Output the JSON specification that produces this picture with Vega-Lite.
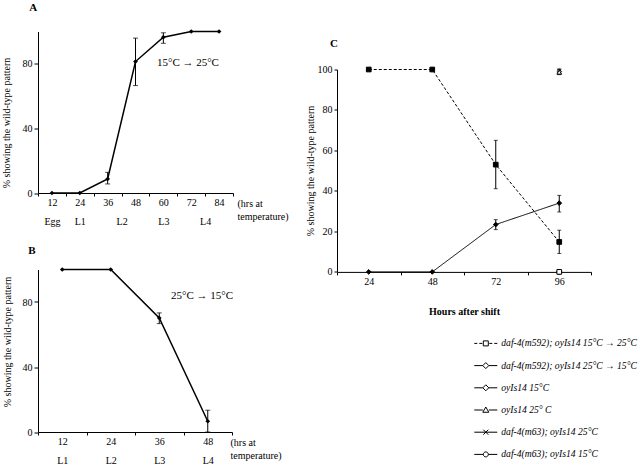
{
"$schema": "https://vega.github.io/schema/vega-lite/v6.json",
"background": "white",
"padding": {"left": 1, "top": 1.5, "right": 0, "bottom": 0},
"config": {
  "font": "Liberation Serif",
  "view": {"stroke": null},
  "axis": {"domainColor": "black", "tickColor": "black", "labelColor": "black", "titleColor": "black", "labelFontSize": 10, "titleFontSize": 10, "titleFontWeight": "normal", "grid": false, "labelFont": "Liberation Serif", "titleFont": "Liberation Serif", "domainWidth": 1, "tickWidth": 1},
  "title": {"font": "Liberation Serif", "fontSize": 11, "fontWeight": "bold", "color": "black"}
},
"spacing": 16,
"hconcat": [
 {"bounds": "flush", "spacing": 76, "vconcat": [
  {
   "width": 195, "height": 161.5,
   "title": {"text": "A", "anchor": "start", "frame": "group", "dx": -8.7, "offset": 7, "baseline": "alphabetic"},
   "data": {"values": [
     {"h": 12, "v": 0}, {"h": 24, "v": 0}, {"h": 36, "v": 8.7, "lo": 5.6, "hi": 12.8},
     {"h": 48, "v": 81.4, "lo": 66.5, "hi": 95.9}, {"h": 60, "v": 96.5, "lo": 92.7, "hi": 99.2},
     {"h": 72, "v": 100}, {"h": 84, "v": 100}]},
   "resolve": {"axis": {"x": "independent"}},
   "layer": [
    {"mark": {"type": "line", "color": "black", "strokeWidth": 1.5},
     "encoding": {
      "x": {"field": "h", "type": "quantitative", "scale": {"domain": [6, 90], "nice": false, "zero": false},
        "axis": {"orient": "bottom", "values": [12, 24, 36, 42, 48, 60, 72, 78, 84], "ticks": false, "labelPadding": 4, "labelOverlap": false, "labelFlush": false, "labelBound": false, "labelLineHeight": 19.5,
          "labelExpr": "datum.value == 12 ? ['12','Egg'] : datum.value == 24 ? ['24','L1'] : datum.value == 36 ? ['36',''] : datum.value == 42 ? ['','L2'] : datum.value == 48 ? ['48',''] : datum.value == 60 ? ['60','L3'] : datum.value == 72 ? ['72',''] : datum.value == 78 ? ['','L4'] : ['84','']",
          "title": ["(hrs at", "temperature)"], "titleX": 199, "titleY": 13, "titleAlign": "left", "titleBaseline": "alphabetic", "titleLineHeight": 13}},
      "y": {"field": "v", "type": "quantitative", "scale": {"domain": [0, 100], "nice": false},
        "axis": {"values": [0, 20, 40, 60, 80, 100], "labelOverlap": false,
          "tickSize": 4, "labelPadding": 2, "title": "% showing the wild-type pattern", "titleX": -27, "titleY": 91}}
     }},
    {"transform": [{"filter": "datum.lo != null"}],
     "mark": {"type": "rule", "color": "black", "strokeWidth": 1},
     "encoding": {"x": {"field": "h", "type": "quantitative", "axis": null}, "y": {"field": "lo", "type": "quantitative"}, "y2": {"field": "hi"}}},
    {"transform": [{"filter": "datum.lo != null"}, {"fold": ["lo", "hi"], "as": ["k", "e"]}],
     "mark": {"type": "tick", "orient": "horizontal", "size": 5, "thickness": 1, "color": "black"},
     "encoding": {"x": {"field": "h", "type": "quantitative", "axis": null}, "y": {"field": "e", "type": "quantitative"}}},
    {"mark": {"type": "point", "shape": "diamond", "filled": true, "size": 22, "color": "black", "opacity": 1},
     "encoding": {
      "x": {"field": "h", "type": "quantitative", "axis": {"orient": "bottom", "values": [6, 18, 30, 42, 54, 66, 78, 90], "labels": false, "domain": false, "tickSize": 3, "title": null}},
      "y": {"field": "v", "type": "quantitative"}}},
    {"data": {"values": [{}]},
     "mark": {"type": "text", "fontSize": 11, "align": "center", "baseline": "middle", "color": "black"},
     "encoding": {"x": {"datum": 70.6, "axis": null},
       "y": {"datum": 80.5, "type": "quantitative", "axis": {"values": [0, 20, 40, 60, 80, 100], "labelOverlap": false, "tickSize": 4, "labelPadding": 2, "title": "% showing the wild-type pattern", "titleX": -27, "titleY": 91}},
       "text": {"value": "15°C → 25°C"}}}
   ]
  },
  {
   "width": 194, "height": 162.5,
   "title": {"text": "B", "anchor": "start", "frame": "group", "dx": -9.7, "offset": 2, "baseline": "alphabetic"},
   "data": {"values": [
     {"h": 12, "v": 100}, {"h": 24, "v": 100}, {"h": 36, "v": 70.2, "lo": 66.7, "hi": 73.3},
     {"h": 48, "v": 6.6, "lo": 0, "hi": 13.4}]},
   "resolve": {"axis": {"x": "independent"}},
   "layer": [
    {"mark": {"type": "line", "color": "black", "strokeWidth": 1.5},
     "encoding": {
      "x": {"field": "h", "type": "quantitative", "scale": {"domain": [6, 54], "nice": false, "zero": false},
        "axis": {"orient": "bottom", "values": [12, 24, 36, 48], "ticks": false, "labelPadding": 4, "labelOverlap": false, "labelFlush": false, "labelBound": false, "labelLineHeight": 19,
          "labelExpr": "datum.value == 12 ? ['12','L1'] : datum.value == 24 ? ['24','L2'] : datum.value == 36 ? ['36','L3'] : ['48','L4']",
          "title": ["(hrs at", "temperature)"], "titleX": 192, "titleY": 13.8, "titleAlign": "left", "titleBaseline": "alphabetic", "titleLineHeight": 13}},
      "y": {"field": "v", "type": "quantitative", "scale": {"domain": [0, 100], "nice": false},
        "axis": {"values": [0, 20, 40, 60, 80, 100], "labelOverlap": false,
          "tickSize": 4, "labelPadding": 2, "title": "% showing the wild-type pattern", "titleX": -26, "titleY": 72}}
     }},
    {"transform": [{"filter": "datum.lo != null"}],
     "mark": {"type": "rule", "color": "black", "strokeWidth": 1},
     "encoding": {"x": {"field": "h", "type": "quantitative", "axis": null}, "y": {"field": "lo", "type": "quantitative"}, "y2": {"field": "hi"}}},
    {"transform": [{"filter": "datum.lo != null"}, {"fold": ["lo", "hi"], "as": ["k", "e"]}],
     "mark": {"type": "tick", "orient": "horizontal", "size": 5, "thickness": 1, "color": "black"},
     "encoding": {"x": {"field": "h", "type": "quantitative", "axis": null}, "y": {"field": "e", "type": "quantitative"}}},
    {"mark": {"type": "point", "shape": "diamond", "filled": true, "size": 22, "color": "black", "opacity": 1},
     "encoding": {
      "x": {"field": "h", "type": "quantitative", "axis": {"orient": "bottom", "values": [6, 18, 30, 42, 54], "labels": false, "domain": false, "tickSize": 3, "title": null}},
      "y": {"field": "v", "type": "quantitative"}}},
    {"data": {"values": [{}]},
     "mark": {"type": "text", "fontSize": 11, "align": "center", "baseline": "middle", "color": "black"},
     "encoding": {"x": {"datum": 46.6, "axis": null},
       "y": {"datum": 84, "type": "quantitative", "axis": {"values": [0, 20, 40, 60, 80, 100], "labelOverlap": false, "tickSize": 4, "labelPadding": 2, "title": "% showing the wild-type pattern", "titleX": -26, "titleY": 72}},
       "text": {"value": "25°C → 15°C"}}}
   ]
  }
 ]},
 {"bounds": "flush", "spacing": 0, "vconcat": [
  {"width": 254, "height": 38, "view": {"fill": "white", "stroke": null}, "data": {"values": []}, "mark": "point"},
  {
   "width": 254, "height": 202.4,
   "title": {"text": "C", "anchor": "start", "frame": "group", "dx": -7, "offset": 7, "baseline": "alphabetic"},
   "data": {"values": [
     {"s": "daf-4(m592); oyIs14 15°C → 25°C", "h": 24, "v": 100},
     {"s": "daf-4(m592); oyIs14 15°C → 25°C", "h": 48, "v": 100},
     {"s": "daf-4(m592); oyIs14 15°C → 25°C", "h": 72, "v": 53, "lo": 41.1, "hi": 65},
     {"s": "daf-4(m592); oyIs14 15°C → 25°C", "h": 96, "v": 14.8, "lo": 9.1, "hi": 20.6},
     {"s": "daf-4(m592); oyIs14 25°C → 15°C", "h": 24, "v": 0},
     {"s": "daf-4(m592); oyIs14 25°C → 15°C", "h": 48, "v": 0},
     {"s": "daf-4(m592); oyIs14 25°C → 15°C", "h": 72, "v": 23.4, "lo": 20.9, "hi": 25.8},
     {"s": "daf-4(m592); oyIs14 25°C → 15°C", "h": 96, "v": 34, "lo": 29.6, "hi": 37.8},
     {"s": "oyIs14 15°C", "h": 96, "v": 99, "lo": 97.5, "hi": 100.3},
     {"s": "oyIs14 25° C", "h": 96, "v": 98.7, "lo": 97.5, "hi": 100},
     {"s": "daf-4(m63); oyIs14 25°C", "h": 96, "v": 0},
     {"s": "daf-4(m63); oyIs14 15°C", "h": 96, "v": 0}]},
   "resolve": {"axis": {"x": "independent"}, "scale": {"shape": "independent"}},
   "layer": [
    {"mark": {"type": "line", "color": "black", "strokeWidth": 1},
     "encoding": {
      "x": {"field": "h", "type": "quantitative", "scale": {"domain": [12, 108], "nice": false, "zero": false},
        "axis": {"orient": "bottom", "values": [24, 48, 72, 96], "ticks": false, "labelPadding": 5, "labelFlush": false, "labelOverlap": false,
          "title": "Hours after shift", "titleFontWeight": "bold", "titleY": 43, "titleBaseline": "alphabetic"}},
      "y": {"field": "v", "type": "quantitative", "scale": {"domain": [0, 100], "nice": false},
        "axis": {"values": [0, 10, 20, 30, 40, 50, 60, 70, 80, 90, 100], "labelOverlap": false, "labelExpr": "datum.value % 20 == 0 ? datum.label : ''", "tickSize": 3, "labelPadding": 2, "title": "% showing the wild-type pattern", "titleX": -22, "titleY": 101}},
      "strokeDash": {"field": "s", "type": "nominal", "legend": null,
        "scale": {"domain": ["daf-4(m592); oyIs14 15°C → 25°C", "daf-4(m592); oyIs14 25°C → 15°C", "oyIs14 15°C", "oyIs14 25° C", "daf-4(m63); oyIs14 25°C", "daf-4(m63); oyIs14 15°C"],
          "range": [[3, 2], [1, 0], [1, 0], [1, 0], [1, 0], [1, 0]]}}
     }},
    {"transform": [{"filter": "datum.lo != null"}],
     "mark": {"type": "rule", "color": "black", "strokeWidth": 1},
     "encoding": {"x": {"field": "h", "type": "quantitative", "axis": null}, "y": {"field": "lo", "type": "quantitative"}, "y2": {"field": "hi"}}},
    {"transform": [{"filter": "datum.lo != null"}, {"fold": ["lo", "hi"], "as": ["k", "e"]}],
     "mark": {"type": "tick", "orient": "horizontal", "size": 4, "thickness": 1, "color": "black"},
     "encoding": {"x": {"field": "h", "type": "quantitative", "axis": null}, "y": {"field": "e", "type": "quantitative"}}},
    {"mark": {"type": "point", "size": 22, "strokeWidth": 1, "stroke": "black", "opacity": 1},
     "encoding": {
      "x": {"field": "h", "type": "quantitative", "axis": {"orient": "bottom", "values": [12, 36, 60, 84, 108], "labels": false, "domain": false, "tickSize": 3, "title": null}},
      "y": {"field": "v", "type": "quantitative"},
      "shape": {"field": "s", "type": "nominal", "legend": null,
        "scale": {"domain": ["daf-4(m592); oyIs14 15°C → 25°C", "daf-4(m592); oyIs14 25°C → 15°C", "oyIs14 15°C", "oyIs14 25° C", "daf-4(m63); oyIs14 25°C", "daf-4(m63); oyIs14 15°C"],
          "range": ["square", "diamond", "diamond", "triangle-up", "cross", "square"]}},
      "fill": {"field": "s", "type": "nominal", "legend": null,
        "scale": {"domain": ["daf-4(m592); oyIs14 15°C → 25°C", "daf-4(m592); oyIs14 25°C → 15°C", "oyIs14 15°C", "oyIs14 25° C", "daf-4(m63); oyIs14 25°C", "daf-4(m63); oyIs14 15°C"],
          "range": ["black", "black", "white", "white", "black", "white"]}}
     }},
    {"mark": {"type": "point", "size": 100, "strokeWidth": 1, "color": "black", "opacity": 0},
     "encoding": {
      "x": {"field": "h", "type": "quantitative", "axis": null},
      "y": {"field": "v", "type": "quantitative"},
      "shape": {"field": "s", "type": "nominal",
        "scale": {"domain": ["daf-4(m592); oyIs14 15°C → 25°C", "daf-4(m592); oyIs14 25°C → 15°C", "oyIs14 15°C", "oyIs14 25° C", "daf-4(m63); oyIs14 25°C", "daf-4(m63); oyIs14 15°C"],
          "range": [
            "M-2.3,0L-1.7,0M-1.3,0L-0.7,0M0.7,0L1.3,0M1.7,0L2.3,0M-0.5,-0.5L0.5,-0.5L0.5,0.5L-0.5,0.5Z",
            "M-2.3,0L-0.6,0M0.6,0L2.3,0M0,-0.6L0.6,0L0,0.6L-0.6,0Z",
            "M-2.3,0L-0.6,0M0.6,0L2.3,0M0,-0.6L0.6,0L0,0.6L-0.6,0Z",
            "M-2.3,0L-0.6,0M0.6,0L2.3,0M0,-0.6L0.6,0.45L-0.6,0.45Z",
            "M-2.3,0L2.3,0M-0.5,-0.5L0.5,0.5M0.5,-0.5L-0.5,0.5",
            "M-2.3,0L-0.5,0M0.5,0L2.3,0M0.5,0A0.5,0.5,0,1,1,-0.5,0A0.5,0.5,0,1,1,0.5,0Z"]},
        "legend": {"title": null, "orient": "none", "legendX": 143.3, "legendY": 268.4, "symbolSize": 100, "symbolStrokeColor": "black", "symbolStrokeWidth": 1, "symbolOpacity": 1,
          "labelFontSize": 9.6, "labelFont": "Liberation Serif", "labelFontStyle": "italic", "labelColor": "black", "labelOffset": 10, "rowPadding": 11.2, "padding": 0, "labelLimit": 300,
          "encode": {"symbols": {"fill": {"condition": {"test": "indexof(datum.value, 'm592') >= 0", "value": "black"}, "value": "white"}, "stroke": {"value": "black"}, "opacity": {"value": 1}, "strokeWidth": {"value": 1}}}}
      }
     }}
   ]
  }
 ]}
]
}
